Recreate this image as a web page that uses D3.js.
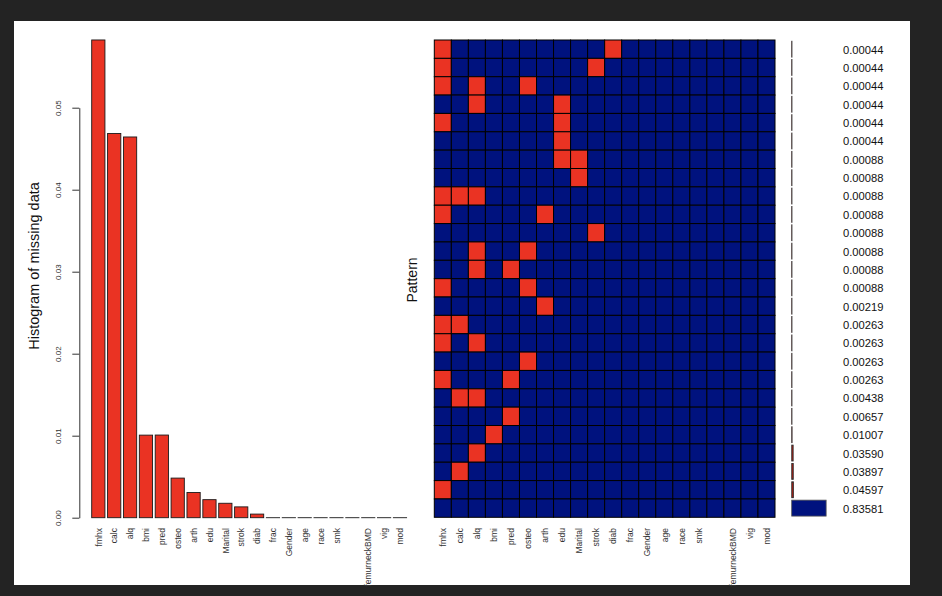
<!DOCTYPE html>
<html>
<head>
<meta charset="utf-8">
<script src="https://cdn.jsdelivr.net/npm/d3@7/dist/d3.min.js"></script>
<style>
  html, body { margin: 0; padding: 0; background: #232323; }
  svg { display: block; font-family: "Liberation Sans", Arial, Helvetica, sans-serif; }
</style>
</head>
<body>
<svg id="chart" width="942" height="596"></svg>
<script>
// ---- data ----
const variables = ["fmhx","calc","alq","bmi","pred","osteo","arth","edu","Marital","strok","diab","frac","Gender","age","race","smk","","femurneckBMD","vig","mod"];
const missingProportion = [0.05826,0.04686,0.04643,0.01007,0.01008,0.00483,0.00307,0.00220,0.00176,0.00132,0.00044,0,0,0,0,0,0,0,0,0];
const yTicks = [0, 0.01, 0.02, 0.03, 0.04, 0.05];
// each pattern: list of indices of missing variables
const patterns = [
  [0,10],[0,9],[0,2,5],[2,7],[0,7],[7],
  [7,8],[8],[0,1,2],[0,6],[9],[2,5],[2,4],[0,5],
  [6],
  [0,1],[0,2],[5],[0,4],
  [1,2],[4],[3],[2],[1],[0],[]
];
const patternProportion = [0.00044,0.00044,0.00044,0.00044,0.00044,0.00044,
  0.00088,0.00088,0.00088,0.00088,0.00088,0.00088,0.00088,0.00088,
  0.00219,0.00263,0.00263,0.00263,0.00263,0.00438,0.00657,0.01007,0.03590,0.03897,0.04597,0.83581];
const patternLabels = ["0.00044","0.00044","0.00044","0.00044","0.00044","0.00044",
  "0.00088","0.00088","0.00088","0.00088","0.00088","0.00088","0.00088","0.00088",
  "0.00219","0.00263","0.00263","0.00263","0.00263","0.00438","0.00657","0.01007","0.03590","0.03897","0.04597","0.83581"];

const RED = "#EA3323", BLUE = "#00127E";
const svg = d3.select("#chart");

// white panel
svg.append("rect").attr("x",14).attr("y",21).attr("width",896).attr("height",564).attr("fill","#ffffff");

// ---- left: histogram ----
const xL = d3.scaleBand().domain(d3.range(variables.length)).range([91.7, 406.6]).paddingInner(1/6).paddingOuter(0);
const yL = d3.scaleLinear().domain([0, 0.05]).range([517.7, 107.7]);

svg.append("g").selectAll("rect").data(missingProportion).join("rect")
  .attr("x",(d,i)=>xL(i)).attr("width",xL.bandwidth())
  .attr("y",d=>yL(d)).attr("height",d=>Math.max(0.01, yL(0)-yL(d)))
  .attr("fill",RED).attr("stroke","#1a1a1a").attr("stroke-width",0.9);

const yAxis = svg.append("g").attr("transform","translate(79.3,0)")
  .call(d3.axisLeft(yL).tickValues(yTicks).tickFormat(d3.format(".2f")).tickSize(7).tickSizeOuter(0));
yAxis.select(".domain").attr("stroke","#333");
yAxis.selectAll(".tick line").attr("stroke","#333");
yAxis.selectAll(".tick text").attr("font-size",8).attr("fill","#333")
  .attr("text-anchor","middle").attr("dy",0).attr("x",0)
  .attr("transform","translate(-20,0) rotate(-90)")
  .attr("dominant-baseline","middle");

svg.append("text").attr("transform","translate(35,266) rotate(-90)")
  .attr("text-anchor","middle").attr("dominant-baseline","middle")
  .attr("font-size",14.5).attr("fill","#111").text("Histogram of missing data");

svg.append("g").selectAll("text").data(variables).join("text")
  .attr("transform",(d,i)=>`translate(${xL(i)+xL.bandwidth()/2+1},528) rotate(-90)`)
  .attr("text-anchor","end").attr("dominant-baseline","middle")
  .attr("font-size",8.5).attr("fill","#333").text(d=>d);

// ---- right: pattern grid ----
const xR = d3.scaleBand().domain(d3.range(variables.length)).range([434.3, 775]);
const yR = d3.scaleBand().domain(d3.range(patterns.length)).range([40, 517.3]);

const cells = [];
patterns.forEach((p,r)=>variables.forEach((v,c)=>cells.push({r,c,miss:p.includes(c)})));
svg.append("g").selectAll("rect").data(cells).join("rect")
  .attr("x",d=>xR(d.c)).attr("y",d=>yR(d.r))
  .attr("width",xR.bandwidth()).attr("height",yR.bandwidth())
  .attr("fill",d=>d.miss?RED:BLUE).attr("stroke","#000").attr("stroke-width",1);

svg.append("text").attr("transform","translate(413,280) rotate(-90)")
  .attr("text-anchor","middle").attr("dominant-baseline","middle")
  .attr("font-size",14).attr("fill","#111").text("Pattern");

svg.append("g").selectAll("text").data(variables).join("text")
  .attr("transform",(d,i)=>`translate(${xR(i)+xR.bandwidth()/2+1},528) rotate(-90)`)
  .attr("text-anchor","end").attr("dominant-baseline","middle")
  .attr("font-size",8.5).attr("fill","#333").text(d=>d);

// ---- proportion bars ----
const xP = d3.scaleLinear().domain([0,1]).range([791.7, 832.9]);
const yP = d3.scaleBand().domain(d3.range(patterns.length)).range([40, 517.3]).paddingInner(0.13).paddingOuter(0.065);
svg.append("g").selectAll("rect").data(patternProportion).join("rect")
  .attr("x",xP(0)).attr("y",(d,i)=>yP(i))
  .attr("width",d=>Math.max(0.3,xP(d)-xP(0))).attr("height",yP.bandwidth())
  .attr("fill",(d,i)=>patterns[i].length===0?BLUE:"#9a1c14")
  .attr("stroke",(d,i)=>patterns[i].length===0?"#555":"#333").attr("stroke-width",0.8);

svg.append("g").selectAll("text").data(patternLabels).join("text")
  .attr("x",843).attr("y",(d,i)=>yR(i)+yR.bandwidth()/2+1.5)
  .attr("dominant-baseline","middle").attr("font-size",11.2).attr("fill","#111")
  .text(d=>d);
</script>
</body>
</html>
